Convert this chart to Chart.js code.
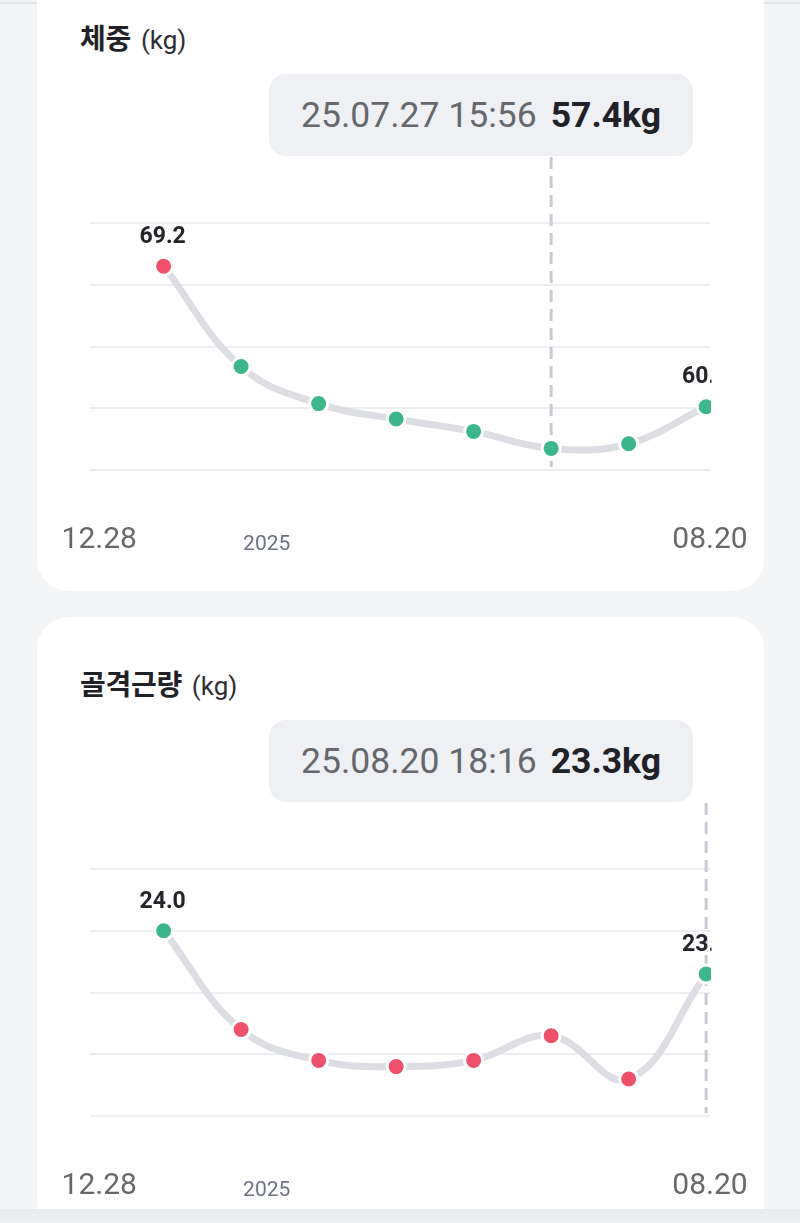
<!DOCTYPE html>
<html lang="ko">
<head>
<meta charset="utf-8">
<script src="https://cdn.jsdelivr.net/npm/chart.js@4/dist/chart.umd.min.js"></script>
<style>
  html, body { margin: 0; padding: 0; }
  body {
    width: 800px; height: 1223px; overflow: hidden; position: relative;
    background: #f4f5f7; font-family: Roboto, "Noto Sans CJK KR", sans-serif;
  }
  .tabline { position: absolute; left: 0; top: 2px; width: 800px; height: 2px; background: #e2e4e8; }
  .tabsel { position: absolute; left: 430px; top: 0; width: 190px; height: 4px; background: #2b2e36; }
  .card {
    position: absolute; left: 37px; width: 727px; height: 620px;
    background: #fff; border-radius: 32px;
  }
  .title { position: absolute; left: 43px; top: 46px; white-space: nowrap; }
  .title b {
    font-family: "Noto Sans CJK KR", sans-serif; font-weight: 700;
    font-size: 28px; color: #1f2127; letter-spacing: -0.3px;
  }
  .title span { font-size: 26px; color: #2c2e33; margin-left: 10px; }
  .tip {
    position: absolute; left: 232px; top: 103px; width: 424px; height: 82px;
    background: #eff0f4; border-radius: 17px;
    display: flex; align-items: center; justify-content: center;
    font-size: 35.5px; white-space: nowrap;
  }
  .tip .d { color: #66686d; margin-right: 14px; }
  .tip .v { color: #202228; font-weight: 700; }
  .card canvas { position: absolute; left: 3px; top: 186px; }
  .bottomshade {
    position: absolute; left: 0; top: 1209px; width: 800px; height: 14px;
    background: linear-gradient(#e9ebee, #eef0f2);
  }
</style>
</head>
<body>
<div class="tabline"></div>
<div class="tabsel"></div>

<div class="card" style="top:-29px">
  <div class="title"><b>체중</b><span>(kg)</span></div>
  <div class="tip"><span class="d">25.07.27 15:56</span><span class="v">57.4kg</span></div>
  <canvas id="weightChart" width="720" height="480"></canvas>
</div>

<div class="card" style="top:617px">
  <div class="title"><b>골격근량</b><span>(kg)</span></div>
  <div class="tip"><span class="d">25.08.20 18:16</span><span class="v">23.3kg</span></div>
  <canvas id="muscleChart" width="720" height="480"></canvas>
</div>

<div class="bottomshade"></div>

<script>
// x positions of the measurements (record order)
const periods = [1, 2, 3, 4, 5, 6, 7, 8];

// x axis labels and where they sit on the same axis
const xTickLabels = ["12.28", "2025", "08.20"];
const xTickValues = [0.17, 2.33, 8.05];

const weightValues = [69.2, 62.7, 60.3, 59.3, 58.5, 57.4, 57.7, 60.1];
const weightTicks = [56, 60, 64, 68, 72];
const weightStdMax = 65; // above -> red
const weightSelected = 5;

const muscleValues = [24.0, 22.4, 21.9, 21.8, 21.9, 22.3, 21.6, 23.3];
const muscleTicks = [21, 22, 23, 24, 25];
const muscleStdMin = 23; // below -> red
const muscleSelected = 7;

const RED = "#ef516c";
const GREEN = "#3db68c";

// dashed line for the selected record
const selectedLine = {
  id: "selectedLine",
  beforeDatasetsDraw(chart, args, opts) {
    const meta = chart.getDatasetMeta(0);
    const pt = meta.data[opts.index];
    if (!pt) return;
    const ctx = chart.ctx;
    ctx.save();
    ctx.strokeStyle = "#c9cad3";
    ctx.lineWidth = 3;
    ctx.setLineDash([12, 7]);
    ctx.beginPath();
    ctx.moveTo(pt.x, 0);
    ctx.lineTo(pt.x, chart.chartArea.bottom - 3);
    ctx.stroke();
    ctx.restore();
  },
};

// value labels over first and last point
const endLabels = {
  id: "endLabels",
  afterDatasetsDraw(chart) {
    const meta = chart.getDatasetMeta(0);
    const values = chart.data.datasets[0].data;
    const area = chart.chartArea;
    const ctx = chart.ctx;
    ctx.save();
    ctx.beginPath();
    ctx.rect(area.left - 60, area.top - 60, area.right - area.left + 61.5, area.bottom - area.top + 120);
    ctx.clip();
    ctx.font = "bold 23px Roboto";
    ctx.fillStyle = "#23252b";
    ctx.textAlign = "center";
    ctx.textBaseline = "middle";
    [0, values.length - 1].forEach((i) => {
      const p = meta.data[i];
      ctx.fillText(values[i].y.toFixed(1), p.x - 1, p.y - 29);
    });
    ctx.restore();
  },
};

function makeChart(id, values, ticks, colorOf, selected) {
  return new Chart(document.getElementById(id), {
    type: "line",
    data: {
      datasets: [
        {
          data: periods.map((x, i) => ({ x: x, y: values[i] })),
          borderColor: "#dcdee3",
          borderWidth: 7,
          tension: 0.4,
          pointRadius: 9,
          pointBorderWidth: 3,
          pointBorderColor: "#fff",
          pointBackgroundColor: values.map(colorOf),
          clip: { left: 20, top: 20, right: 1, bottom: 20 },
        },
      ],
    },
    plugins: [selectedLine, endLabels],
    options: {
      responsive: false,
      animation: false,
      events: [],
      layout: { padding: { left: 50, right: 50, top: 66, bottom: 18 } },
      scales: {
        x: {
          type: "linear",
          min: 0.05,
          max: 8.05,
          afterBuildTicks: (scale) => {
            scale.ticks = xTickValues.map((v) => ({ value: v }));
          },
          grid: { display: false, drawTicks: false },
          border: { display: false },
          ticks: {
            autoSkip: false,
            maxRotation: 0,
            padding: 0,
            callback: (v, i) => xTickLabels[i],
            color: (c) => (c.index === 1 ? "#6d7380" : "#666869"),
            font: (c) =>
              c.index === 1
                ? { family: "Roboto", size: 21, lineHeight: "149px" }
                : { family: "Roboto", size: 30, lineHeight: "140px" },
          },
        },
        y: {
          min: ticks[0],
          max: ticks[ticks.length - 1],
          afterBuildTicks: (scale) => {
            scale.ticks = ticks.map((v) => ({ value: v }));
          },
          grid: { color: "#eceef1", lineWidth: 2, drawTicks: false },
          border: { display: false },
          ticks: { display: false },
        },
      },
      plugins: {
        legend: { display: false },
        tooltip: { enabled: false },
        selectedLine: { index: selected },
      },
    },
  });
}

makeChart("weightChart", weightValues, weightTicks, (v) => (v > weightStdMax ? RED : GREEN), weightSelected);
makeChart("muscleChart", muscleValues, muscleTicks, (v) => (v < muscleStdMin ? RED : GREEN), muscleSelected);
</script>
</body>
</html>
